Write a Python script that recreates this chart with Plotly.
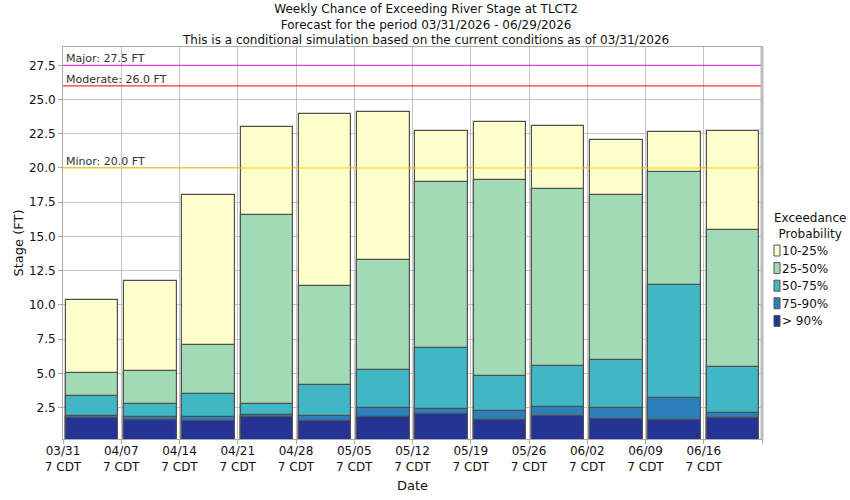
import plotly.graph_objects as go

# ---- data ----
dates = ["03/31", "04/07", "04/14", "04/21", "04/28", "05/05",
         "05/12", "05/19", "05/26", "06/02", "06/09", "06/16"]
p10_25 = [10.35, 11.75, 18.03, 23.00, 23.94, 24.09, 22.70, 23.36, 23.07, 22.05, 22.63, 22.70]
p25_50 = [5.03, 5.17, 7.07, 16.57, 11.38, 13.28, 18.98, 19.12, 18.47, 18.03, 19.71, 15.47]
p50_75 = [3.35, 2.78, 3.51, 2.76, 4.15, 5.24, 6.85, 4.81, 5.54, 5.98, 11.45, 5.46]
p75_90 = [1.88, 1.81, 1.81, 1.98, 1.91, 2.47, 2.40, 2.25, 2.54, 2.47, 3.20, 2.10]
p90 = [1.74, 1.59, 1.52, 1.83, 1.54, 1.83, 2.03, 1.59, 1.88, 1.67, 1.59, 1.74]

series_names = ["10-25%", "25-50%", "50-75%", "75-90%", "> 90%"]
series_values = [p10_25, p25_50, p50_75, p75_90, p90]
series_colors = ["#ffffcc", "#a1dab4", "#41b6c4", "#2c7fb8", "#253494"]

threshold_names = ["Major", "Moderate", "Minor"]
threshold_values = [27.5, 26.0, 20.0]
threshold_colors = ["#cc44cc", "#ff3333", "#ffcc00"]

y_ticks = [2.5, 5.0, 7.5, 10.0, 12.5, 15.0, 17.5, 20.0, 22.5, 25.0, 27.5]

title_lines = [
    "Weekly Chance of Exceeding River Stage at TLCT2",
    "Forecast for the period 03/31/2026 - 06/29/2026",
    "This is a conditional simulation based on the current conditions as of 03/31/2026",
]

FONT = "DejaVu Sans"

x_pos = [i + 0.5 for i in range(len(dates))]
tick_vals = list(range(len(dates) + 1))
tick_text = [d + "<br>7 CDT" for d in dates] + [""]

# plot-area geometry in pixels (for legend / title placement)
PL, PR, PT, PB = 63, 762, 47, 439
W, H = 850, 500

fig = go.Figure()
for name, vals, col in zip(series_names, series_values, series_colors):
    fig.add_trace(go.Bar(
        x=x_pos, y=vals, name=name, width=0.9,
        marker=dict(color=col, line=dict(color="rgb(80,80,80)", width=1.2)),
        showlegend=False,
    ))

# threshold lines
for nm, val, col in zip(threshold_names, threshold_values, threshold_colors):
    fig.add_shape(type="line", xref="paper", yref="y", x0=0, x1=1, y0=val, y1=val,
                  line=dict(color=col, width=1.2), layer="above")
    fig.add_annotation(xref="paper", yref="y", x=0, y=val, xanchor="left", yanchor="bottom",
                       xshift=1, yshift=-2, text=f"{nm}: {val:.1f} FT", showarrow=False,
                       font=dict(family=FONT, size=11, color="#333333"))

# right border (thicker gray)
fig.add_shape(type="line", xref="paper", yref="paper", x0=1, x1=1, y0=0, y1=1,
              line=dict(color="#bbbbbb", width=3), layer="above")

# title (three lines in one text block)
fig.add_annotation(xref="paper", yref="paper", x=0.5, y=1, xanchor="center", yanchor="middle",
                   xshift=(W / 2) - (PL + PR) / 2, yshift=PT - 24, borderpad=0,
                   text="<br>".join(title_lines), showarrow=False, align="center",
                   font=dict(family=FONT, size=12, color="#111111"))

# manual legend
fig.add_annotation(xref="paper", yref="paper", x=1, y=0, xanchor="center", yanchor="middle",
                   xshift=810 - PR, yshift=PB - 226, text="Exceedance<br>Probability",
                   showarrow=False, align="center",
                   font=dict(family=FONT, size=12, color="#111111"))
for k, (nm, col) in enumerate(zip(series_names, series_colors)):
    yc = 251 + k * 17.6
    fig.add_shape(type="rect", xref="paper", yref="paper",
                  xsizemode="pixel", ysizemode="pixel", xanchor=1, yanchor=0,
                  x0=774 - PR, x1=780 - PR, y0=PB - yc - 5, y1=PB - yc + 6,
                  fillcolor=col, line=dict(color="#555555", width=1))
    fig.add_annotation(xref="paper", yref="paper", x=1, y=0, xanchor="left", yanchor="middle",
                       xshift=782 - PR - 2, yshift=PB - yc, text=nm, showarrow=False,
                       font=dict(family=FONT, size=12, color="#111111"))

fig.update_layout(
    width=W, height=H,
    margin=dict(l=PL, r=W - PR, t=PT, b=H - PB, autoexpand=False),
    plot_bgcolor="white", paper_bgcolor="white",
    barmode="overlay",
    bargap=0,
    font=dict(family=FONT, size=12, color="#111111"),
    xaxis=dict(
        range=[0, len(dates)], tickmode="array", tickvals=tick_vals, ticktext=tick_text,
        showgrid=True, gridcolor="#c4c4c4", gridwidth=1,
        showline=True, linecolor="#aaaaaa", linewidth=1, mirror=True,
        ticks="outside", ticklen=4, tickcolor="#aaaaaa", automargin=False,
        ticklabelstandoff=-3,
        title=dict(text="Date", font=dict(family=FONT, size=13), standoff=7),
        tickfont=dict(family=FONT, size=12), zeroline=False,
    ),
    yaxis=dict(
        range=[0.2, 28.84], tickmode="array", tickvals=y_ticks,
        ticktext=[f"{v:.1f}" for v in y_ticks],
        showgrid=True, gridcolor="#c4c4c4", gridwidth=1,
        showline=True, linecolor="#aaaaaa", linewidth=1, mirror=True,
        ticks="outside", ticklen=4, tickcolor="#aaaaaa", automargin=False,
        title=dict(text="Stage (FT)", font=dict(family=FONT, size=13), standoff=2),
        tickfont=dict(family=FONT, size=12), zeroline=False,
    ),
)

fig.write_html("out.html", config={"displayModeBar": False},
               post_script="document.body.style.margin='0px';")
